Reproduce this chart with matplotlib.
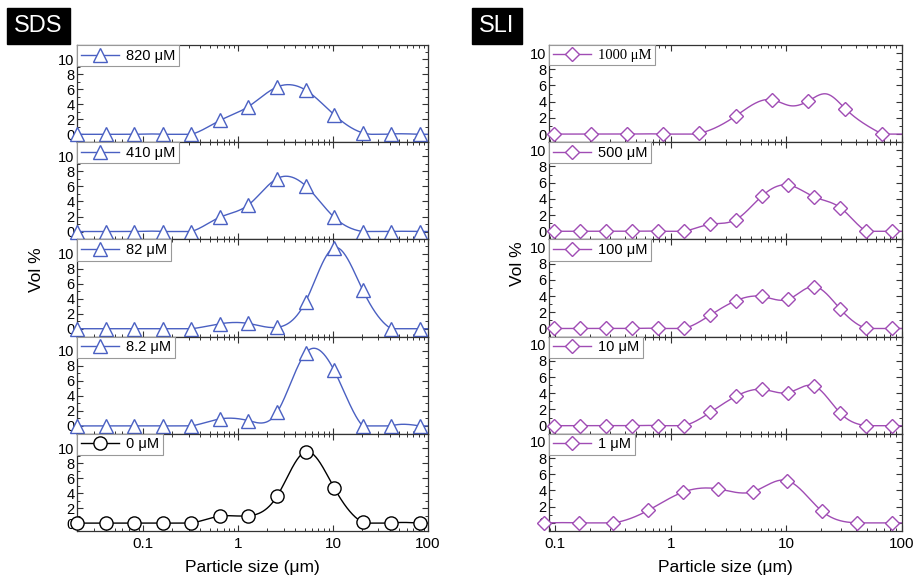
import numpy as np
import matplotlib
matplotlib.use('Agg')
import matplotlib.pyplot as plt
from matplotlib.lines import Line2D
from matplotlib.ticker import MultipleLocator, LogLocator, FixedLocator, FuncFormatter, NullFormatter

plt.rcParams['font.family'] = ['Liberation Sans', 'DejaVu Sans']

# ---- data -------------------------------------------------------------------
sds_x = [0.02, 0.04, 0.08, 0.16, 0.32, 0.64, 1.28, 2.56, 5.12, 10.24, 20.48, 40.96, 81.92]
sds_820 = [0, 0, 0, 0, 0, 1.85, 3.7, 6.3, 5.9, 2.6, 0.2, 0.05, 0]
sds_410 = [0, 0, 0, 0, 0, 1.9, 3.55, 7.05, 6.1, 1.9, 0, 0, 0]
sds_82 = [0, 0, 0, 0, 0, 0.66, 0.7, 0.18, 3.6, 10.8, 5.15, 0, 0]
sds_8_2 = [0, 0, 0, 0, 0, 0.93, 0.7, 1.8, 9.7, 7.4, 0, 0, 0]
sds_0 = [0, 0, 0, 0, 0, 0.93, 0.97, 3.57, 9.5, 4.7, 0.1, 0, 0]
sds_labels = ['820 \u03bcM', '410 \u03bcM', '82 \u03bcM', '8.2 \u03bcM', '0 \u03bcM']

sli_x1000 = [0.098, 0.203, 0.42, 0.86, 1.77, 3.67, 7.5, 15.6, 32.4, 67.6]
sli_1000 = [0, 0, 0, 0, 0.1, 2.25, 4.25, 4.1, 3.15, 0]
# the 1000 uM curve passes through more points than the markers show
sli_x1000_line = [0.098, 0.203, 0.42, 0.86, 1.77, 3.67, 7.5, 10.9, 15.6, 22.5, 32.4, 67.6]
sli_1000_line = [0, 0, 0, 0, 0.1, 2.25, 4.25, 3.5, 4.1, 4.95, 3.15, 0]
sli_x = [0.097, 0.163, 0.273, 0.459, 0.773, 1.30, 2.19, 3.67, 6.18, 10.4, 17.5, 29.4, 49.4, 83.2]
sli_500 = [0, 0, 0, 0, 0, 0, 0.86, 1.44, 4.36, 5.72, 4.24, 2.92, 0, 0]
sli_100 = [0, 0, 0, 0, 0, 0, 1.63, 3.43, 3.96, 3.6, 5.18, 2.4, 0, 0]
sli_10 = [0, 0, 0, 0, 0, 0, 1.63, 3.63, 4.49, 4.08, 4.9, 1.55, 0, 0]
sli_x1 = [0.08, 0.16, 0.32, 0.64, 1.28, 2.56, 5.12, 10.24, 20.48, 40.96, 81.92]
sli_1 = [0, 0, 0, 1.55, 3.8, 4.2, 3.84, 5.22, 1.43, 0, 0]
sli_labels = ['1000 \u03bcM', '500 \u03bcM', '100 \u03bcM', '10 \u03bcM', '1 \u03bcM']

blue = '#4a60c2'
purple = '#a04cb4'


def natural_spline(x, y, xn):
    n = len(x)
    h = np.diff(x)
    A = np.zeros((n, n))
    b = np.zeros(n)
    A[0, 0] = 1
    A[-1, -1] = 1
    for i in range(1, n - 1):
        A[i, i - 1] = h[i - 1]
        A[i, i] = 2 * (h[i - 1] + h[i])
        A[i, i + 1] = h[i]
        b[i] = 6 * ((y[i + 1] - y[i]) / h[i] - (y[i] - y[i - 1]) / h[i - 1])
    M = np.linalg.solve(A, b)
    idx = np.clip(np.searchsorted(x, xn) - 1, 0, n - 2)
    x0, x1 = x[idx], x[idx + 1]
    hh = x1 - x0
    t0, t1 = x1 - xn, xn - x0
    return (M[idx] * t0**3 / (6 * hh) + M[idx + 1] * t1**3 / (6 * hh)
            + (y[idx] / hh - M[idx] * hh / 6) * t0 + (y[idx + 1] / hh - M[idx + 1] * hh / 6) * t1)


def draw(ax, xs, ys, color, marker, ms, label, xlim, ylim, bottom, lfamily=None, line=None):
    cx, cy = line if line else (xs, ys)
    lx = np.log10(cx)
    xn = np.linspace(lx[0], lx[-1], 500)
    yn = np.maximum(natural_spline(lx, np.array(cy, float), xn), 0)
    xx = np.concatenate([[min(np.log10(xlim[0]), lx[0])], xn, [np.log10(xlim[1])]])
    yy = np.concatenate([[cy[0]], yn, [cy[-1]]])
    ax.plot(10**xx, yy, color=color, lw=1)
    ax.plot(xs, ys, ls='none', marker=marker, ms=ms, mfc='white', mec=color, mew=1,
            clip_on=False, zorder=3)
    ax.set_xscale('log')
    ax.set_xlim(*xlim)
    ax.set_ylim(*ylim)
    ax.yaxis.set_major_locator(MultipleLocator(2))
    ax.yaxis.set_minor_locator(MultipleLocator(1))
    ax.xaxis.set_major_locator(FixedLocator([0.1, 1, 10, 100]))
    ax.xaxis.set_major_formatter(FuncFormatter(lambda v, p: '%g' % v))
    ax.xaxis.set_minor_locator(LogLocator(base=10, subs=np.arange(2, 10)))
    ax.xaxis.set_minor_formatter(NullFormatter())
    ax.tick_params(which='both', direction='in', top=True, right=True, colors='#333333',
                   labelcolor='black', labelsize=10.5, pad=2)
    ax.tick_params(which='major', length=4, width=0.8)
    ax.tick_params(which='minor', length=2, width=0.7)
    ax.tick_params(axis='x', labelbottom=bottom, labelsize=11, pad=4)
    for s in ax.spines.values():
        s.set_color('#333333')
        s.set_linewidth(0.9)
    h = Line2D([], [], color=color, lw=1, marker=marker, ms=ms, mfc='white', mec=color, mew=1)
    prop = {'size': 10.5}
    if lfamily:
        prop['family'] = lfamily
    leg = ax.legend([h], [label], loc='upper left', borderaxespad=0, fancybox=False,
                    handlelength=2.6, handletextpad=0.5, borderpad=0.25, prop=prop,
                    framealpha=1)
    leg.get_frame().set_edgecolor('#999999')
    leg.get_frame().set_linewidth(0.8)


fig = plt.figure(figsize=(9.17, 5.79), dpi=100)
gl = fig.add_gridspec(5, 1, left=0.084, right=0.4668, bottom=0.0829, top=0.9223, hspace=0)
gr = fig.add_gridspec(5, 1, left=0.599, right=0.9833, bottom=0.0829, top=0.9223, hspace=0)

sds_sets = [sds_820, sds_410, sds_82, sds_8_2, sds_0]
for i, ys in enumerate(sds_sets):
    ax = fig.add_subplot(gl[i])
    last = i == 4
    draw(ax, sds_x, ys, 'black' if last else blue, 'o' if last else '^', 9.5 if last else 10.5,
         sds_labels[i], (0.02, 100), (-1.05, 11.9), last)

sli_xs = [sli_x1000, sli_x, sli_x, sli_x, sli_x1]
sli_sets = [sli_1000, sli_500, sli_100, sli_10, sli_1]
for i, ys in enumerate(sli_sets):
    ax = fig.add_subplot(gr[i])
    draw(ax, sli_xs[i], ys, purple, 'D', 7, sli_labels[i], (0.089, 100), (-1, 11), i == 4,
         'Liberation Serif' if i == 0 else None,
         (sli_x1000_line, sli_1000_line) if i == 0 else None)

fig.text(0.2756, 0.019, 'Particle size (\u03bcm)', ha='center', va='center', fontsize=12.5)
fig.text(0.7912, 0.019, 'Particle size (\u03bcm)', ha='center', va='center', fontsize=12.5)
fig.text(0.040, 0.534, 'Vol %', rotation=90, ha='center', va='center', fontsize=12.5)
fig.text(0.564, 0.544, 'Vol %', rotation=90, ha='center', va='center', fontsize=12.5)

fig.text(0.042, 0.955, 'SDS', color='white', ha='center', va='center', fontsize=17,
         bbox=dict(boxstyle='square,pad=0.3', facecolor='black', edgecolor='black'))
fig.text(0.542, 0.955, 'SLI', color='white', ha='center', va='center', fontsize=17,
         bbox=dict(boxstyle='square,pad=0.3', facecolor='black', edgecolor='black'))

fig.savefig('out.png', dpi=100)
